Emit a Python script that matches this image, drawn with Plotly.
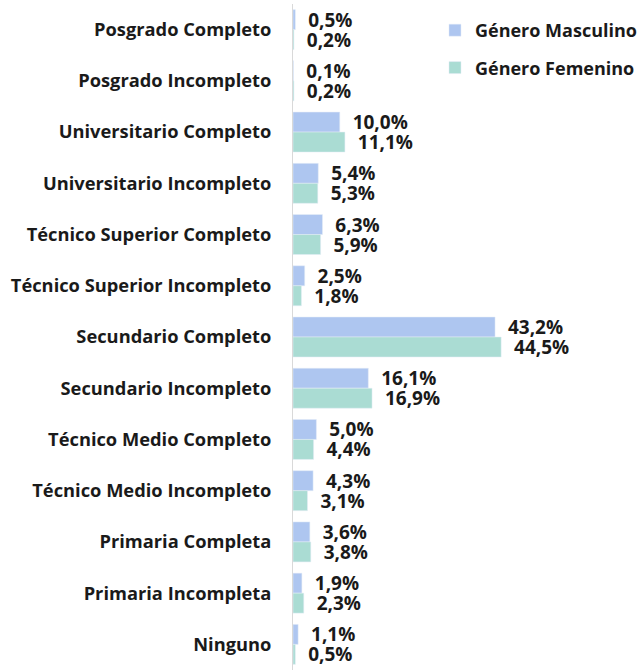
import plotly.graph_objects as go

categorias = ['Posgrado Completo', 'Posgrado Incompleto', 'Universitario Completo',
              'Universitario Incompleto', 'Técnico Superior Completo',
              'Técnico Superior Incompleto', 'Secundario Completo',
              'Secundario Incompleto', 'Técnico Medio Completo',
              'Técnico Medio Incompleto', 'Primaria Completa',
              'Primaria Incompleta', 'Ninguno']
masculino = [0.5, 0.1, 10.0, 5.4, 6.3, 2.5, 43.2, 16.1, 5.0, 4.3, 3.6, 1.9, 1.1]
femenino = [0.2, 0.2, 11.1, 5.3, 5.9, 1.8, 44.5, 16.9, 4.4, 3.1, 3.8, 2.3, 0.5]

fuente = 'Open Sans'
negro = '#1a1a1a'
etiqueta = '\u00a0\u00a0%{x:.1f}%'

fig = go.Figure()
fig.add_trace(go.Bar(y=categorias, x=masculino, orientation='h', name='Género Masculino',
                     marker_color='#aec6f0', legendgroup='m',
                     texttemplate=etiqueta, textposition='outside', cliponaxis=False,
                     constraintext='none',
                     textfont=dict(family=fuente, size=19, color=negro, weight='bold')))
fig.add_trace(go.Bar(y=categorias, x=femenino, orientation='h', name='Género Femenino',
                     marker_color='#aadcd3', legendgroup='f',
                     texttemplate=etiqueta, textposition='outside', cliponaxis=False,
                     constraintext='none',
                     textfont=dict(family=fuente, size=19, color=negro, weight='bold')))

fig.update_layout(
    width=641, height=670,
    margin=dict(l=293, r=0, t=4, b=0, autoexpand=False),
    barmode='group', bargap=0.22, bargroupgap=0,
    separators=',.',
    plot_bgcolor='white', paper_bgcolor='white',
    font=dict(family=fuente, color=negro),
    legend=dict(x=0.408, y=0.988, xanchor='left', yanchor='top',
                font=dict(size=18, family=fuente, weight='bold', color=negro),
                tracegroupgap=11, bgcolor='rgba(0,0,0,0)'),
)
fig.update_xaxes(range=[0, 74.4], visible=False, automargin=False)
fig.update_yaxes(autorange='reversed', showline=True, linecolor='#d9d9d9', linewidth=1,
                 ticks='', ticklabelstandoff=17, automargin=False,
                 tickfont=dict(family=fuente, size=18.3, weight='bold', color=negro))

# quitar el margen por defecto de la página
fig.write_html('out.html', config={'displayModeBar': False},
               post_script="document.body.style.margin='0';")
